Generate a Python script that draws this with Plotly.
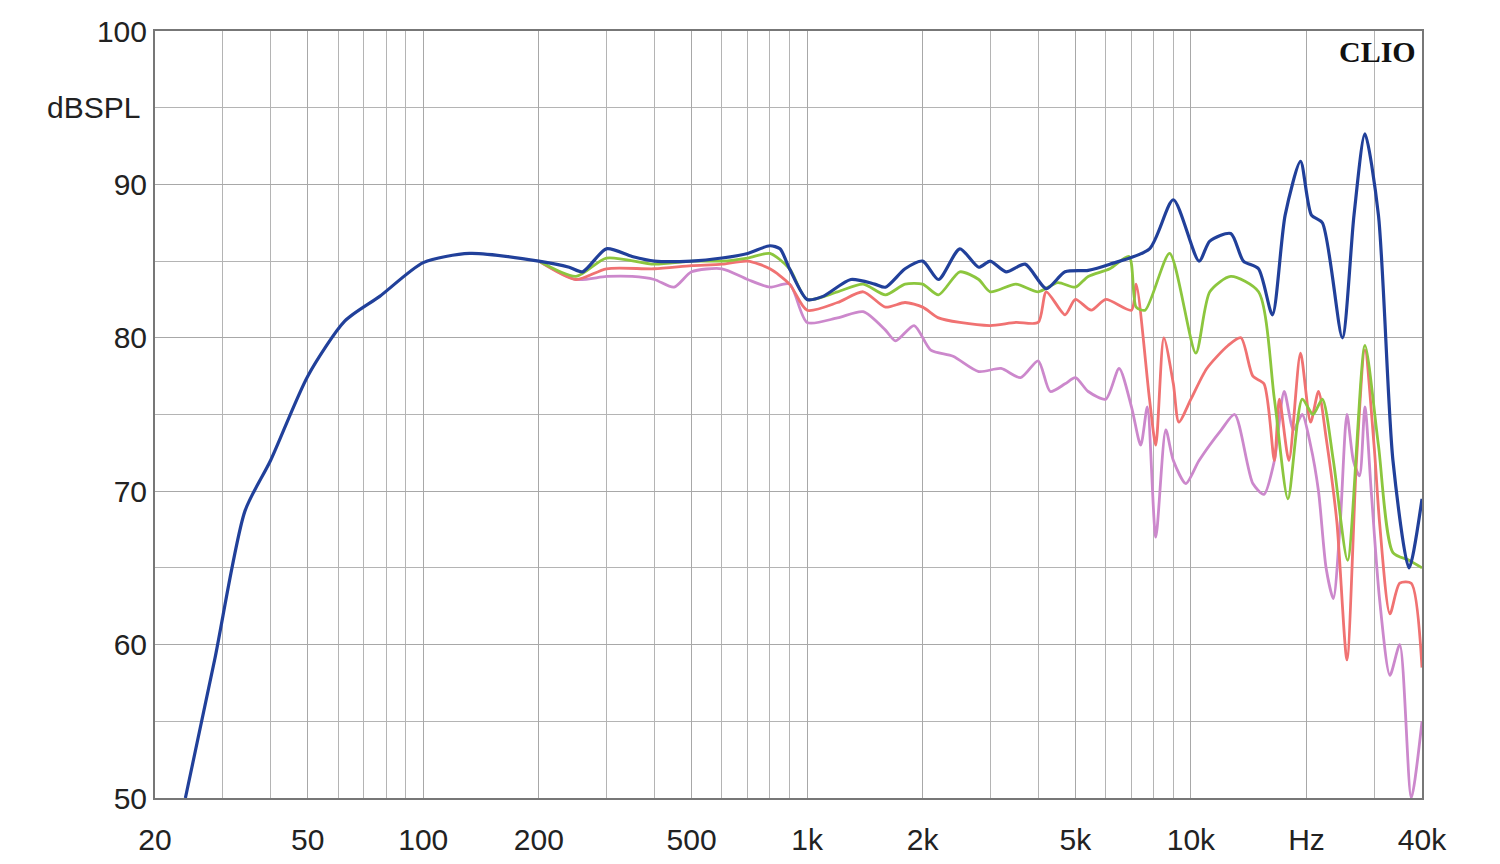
import plotly.graph_objects as go

# frequency response curves (Hz, dBSPL)
blue_f = [24, 28.6, 34.3, 40, 50, 62.5, 77, 100, 132, 200, 240, 260, 300, 350, 400, 500, 600, 700, 800, 850, 900, 1000,
          1100, 1300, 1500, 1600, 1800, 2000, 2200, 2500, 2800, 3000, 3300, 3700, 4200, 4700, 5400, 6150, 7800, 9000,
          10500, 11200, 12700, 13700, 15000, 16300, 17600, 19300, 20600, 22000, 24800, 26600, 28400, 30800, 33600, 37000, 40000]
blue_db = [50, 59, 68.7, 72, 77.5, 81.1, 82.7, 84.9, 85.5, 85, 84.6, 84.3, 85.8, 85.3, 85, 85, 85.2, 85.5, 86, 85.8, 84.5, 82.5,
           82.7, 83.8, 83.5, 83.3, 84.5, 85, 83.8, 85.8, 84.6, 85, 84.3, 84.8, 83.2, 84.3, 84.4, 84.8, 85.8, 89,
           85, 86.3, 86.8, 85, 84.5, 81.5, 88, 91.5, 88, 87.5, 80, 88, 93.3, 88, 72, 65, 69.5]

green_f = [200, 250, 300, 400, 500, 600, 700, 800, 900, 1000, 1200, 1400, 1600, 1800, 2000, 2200, 2500, 2800, 3000, 3500,
           4000, 4500, 5000, 5400, 6150, 6900, 7200, 7600, 8800, 10300, 11200, 12700, 15000, 16500, 17900, 19500, 20800,
           22000, 23500, 25600, 28400, 30800, 33600, 37000, 40000]
green_db = [85, 84, 85.2, 84.8, 85, 85, 85.2, 85.5, 84.5, 82.5, 83, 83.5, 82.8, 83.5, 83.5, 82.8, 84.3, 83.8, 83, 83.5,
            83, 83.6, 83.3, 84, 84.5, 85.3, 82, 81.8, 85.5, 79, 83, 84, 83, 76, 69.5, 76, 75, 76, 72, 65.5, 79.5, 73, 66, 65.5, 65]

red_f = [200, 250, 300, 400, 500, 600, 700, 800, 900, 1000, 1200, 1400, 1600, 1800, 2000, 2200, 2500, 3000, 3500, 4000,
         4200, 4700, 5000, 5500, 6000, 7000, 7200, 7800, 8100, 8500, 9000, 9300, 10000, 11000, 12500, 13500, 14500, 15500,
         16500, 17000, 18000, 19300, 20500, 21500, 22500, 24000, 25500, 27000, 28400, 30000, 31000, 33000, 35000, 37500, 40000]
red_db = [85, 83.8, 84.5, 84.5, 84.7, 84.8, 85, 84.5, 83.5, 81.8, 82.3, 83, 82, 82.3, 82, 81.3, 81, 80.8, 81, 81,
          83, 81.5, 82.5, 81.8, 82.5, 81.8, 83.5, 76, 73, 80, 77, 74.5, 76, 78, 79.5, 80, 77.5, 77,
          72, 76, 72, 79, 74.5, 76.5, 73.5, 68, 59, 72, 79.2, 73, 68, 62, 64, 64, 58.5]

pink_f = [200, 250, 300, 350, 400, 450, 500, 600, 700, 800, 900, 1000, 1200, 1400, 1600, 1700, 1900, 2100, 2400, 2800,
          3200, 3600, 4000, 4300, 4700, 5000, 5400, 6000, 6500, 7000, 7400, 7700, 8100, 8600, 9000, 9700, 10500, 12000,
          13000, 14500, 15500, 16500, 17500, 18500, 19500, 20500, 21500, 22500, 23500, 24500, 25500, 26500, 27500, 28400,
          29500, 31000, 33000, 35000, 37500, 40000]
pink_db = [85, 83.8, 84, 84, 83.8, 83.3, 84.3, 84.5, 83.8, 83.3, 83.5, 81, 81.3, 81.7, 80.5, 79.8, 80.8, 79.2, 78.8, 77.8,
           78, 77.4, 78.5, 76.5, 77, 77.4, 76.5, 76, 78, 75.5, 73, 75.5, 67, 74, 72, 70.5, 72, 74,
           75, 70.5, 69.8, 72, 76.5, 74, 75, 73, 70, 65, 63, 68, 75, 72, 71, 75.5,
           70, 63, 58, 60, 50, 55]

x_ticks = [20, 50, 100, 200, 500, 1000, 2000, 5000, 10000, 20000, 40000]
x_labels = ["20", "50", "100", "200", "500", "1k", "2k", "5k", "10k", "Hz", "40k"]

fig = go.Figure()
for f, db, col, w in [(pink_f, pink_db, "#cc88cc", 2.8), (red_f, red_db, "#f07272", 2.8),
                      (green_f, green_db, "#8cc63e", 2.8), (blue_f, blue_db, "#21409a", 3.2)]:
    fig.add_trace(go.Scatter(x=f, y=db, mode="lines", line=dict(color=col, width=w, shape="spline", smoothing=0.7),
                             showlegend=False))

font = dict(family="Liberation Sans, Arial", size=30, color="#222")
fig.update_layout(
    width=1500, height=864, plot_bgcolor="white", paper_bgcolor="white",
    margin=dict(l=147, r=86, t=23, b=74, autoexpand=False), font=font,
    xaxis=dict(type="log", range=[1.30103, 4.60206], tickvals=x_ticks, ticktext=x_labels,
               showgrid=True, gridcolor="#a8a8a8", gridwidth=1.2, ticks="", ticklabelstandoff=14,
               minor=dict(dtick="D1", showgrid=True, gridcolor="#b4b4b4", gridwidth=1),
               showline=True, linecolor="#777", linewidth=2, mirror=True, zeroline=False),
    yaxis=dict(range=[50, 100], dtick=10, showgrid=True, gridcolor="#a8a8a8", gridwidth=1.2, ticks="",
               minor=dict(dtick=5, showgrid=True, gridcolor="#b4b4b4"),
               showline=True, linecolor="#777", linewidth=2, mirror=True, zeroline=False),
    annotations=[
        dict(text="dBSPL", xref="paper", yref="y", x=-0.01, y=95, xanchor="right", showarrow=False, font=font),
        dict(text="<b>CLIO</b>", xref="paper", yref="paper", x=0.997, y=0.997, xanchor="right", yanchor="top",
             showarrow=False, font=dict(family="Liberation Serif, Times New Roman", size=30, color="#111")),
    ],
)
fig.write_html("out.html")
